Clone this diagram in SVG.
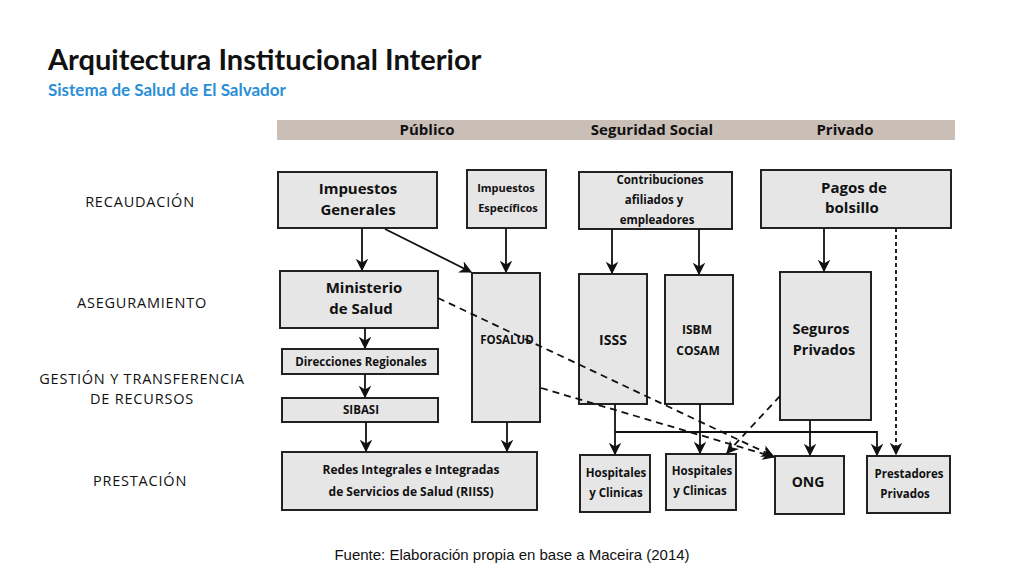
<svg xmlns="http://www.w3.org/2000/svg" width="1024" height="576" viewBox="0 0 1024 576">
<style>
.b{fill:#e6e6e6;stroke:#222;stroke-width:2}
.t{font-family:"Open Sans",sans-serif;font-weight:bold;fill:#111;text-anchor:middle}
.l{font-family:"Open Sans",sans-serif;font-size:14.5px;fill:#111;text-anchor:middle;letter-spacing:0.8px}
.c line,.c path{stroke:#111;stroke-width:1.8;fill:none}
.d{stroke-dasharray:7,5}
.dt{stroke-dasharray:4,3}
</style>
<defs><marker id="a" viewBox="0 0 10 10" refX="9" refY="5" markerWidth="7" markerHeight="7" orient="auto"><path d="M0,0L10,5L0,10L3,5z" fill="#111"/></marker></defs>
<rect width="1024" height="576" fill="#fff"/>
<text x="48" y="70" font-family="Lato,'Open Sans',sans-serif" font-weight="bold" font-size="29" fill="#111">Arquitectura Institucional Interior</text>
<text x="48" y="96" font-family="Lato,'Open Sans',sans-serif" font-weight="bold" font-size="17" fill="#2a8fd6">Sistema de Salud de El Salvador</text>
<rect x="277" y="120" width="678" height="20" fill="#c9bfb7"/>
<g class="t" font-size="15"><text x="427" y="135">Público</text><text x="652" y="135">Seguridad Social</text><text x="845" y="135">Privado</text></g>
<g class="l"><text x="140" y="207">RECAUDACIÓN</text><text x="142" y="308">ASEGURAMIENTO</text><text x="142" y="384">GESTIÓN Y TRANSFERENCIA</text><text x="142" y="404">DE RECURSOS</text><text x="140" y="486">PRESTACIÓN</text></g>
<g id="ig"><rect class="b" x="278" y="172" width="159" height="56"/><text class="t" font-size="15" x="358" y="194">Impuestos</text><text class="t" font-size="15" x="358" y="215">Generales</text></g>
<g id="ie"><rect class="b" x="467" y="170" width="79" height="58"/><text class="t" font-size="11" x="506" y="192">Impuestos</text><text class="t" font-size="11" x="508" y="212">Específicos</text></g>
<g id="co"><rect class="b" x="579" y="172" width="153" height="57"/><text class="t" font-size="11.5" x="660" y="184">Contribuciones</text><text class="t" font-size="11.5" x="654" y="204">afiliados y</text><text class="t" font-size="11.5" x="657" y="224">empleadores</text></g>
<g id="pb"><rect class="b" x="761" y="170" width="190" height="58"/><text class="t" font-size="15" x="854" y="193">Pagos de</text><text class="t" font-size="15" x="852" y="213">bolsillo</text></g>
<g id="ms"><rect class="b" x="280" y="271" width="158" height="57"/><text class="t" font-size="15" x="364" y="293">Ministerio</text><text class="t" font-size="15" x="361" y="314">de Salud</text></g>
<g id="fo"><rect class="b" x="472" y="273" width="68" height="149"/><text class="t" font-size="11.5" x="507" y="344">FOSALUD</text></g>
<g id="is"><rect class="b" x="579" y="274" width="68" height="130"/><text class="t" font-size="14" x="613" y="345">ISSS</text></g>
<g id="ib"><rect class="b" x="665" y="275" width="68" height="129"/><text class="t" font-size="12" x="697" y="334">ISBM</text><text class="t" font-size="12" x="698" y="355">COSAM</text></g>
<g id="sp"><rect class="b" x="780" y="272" width="91" height="148"/><text class="t" font-size="14.5" x="821" y="334">Seguros</text><text class="t" font-size="14.5" x="824" y="355">Privados</text></g>
<g id="dr"><rect class="b" x="282" y="349" width="156" height="25"/><text class="t" font-size="11.5" x="361" y="366">Direcciones Regionales</text></g>
<g id="si"><rect class="b" x="282" y="398" width="156" height="24"/><text class="t" font-size="11.5" x="361" y="414">SIBASI</text></g>
<g id="re"><rect class="b" x="282" y="452" width="255" height="58"/><text class="t" font-size="12" x="411" y="474">Redes Integrales e Integradas</text><text class="t" font-size="12" x="411" y="496">de Servicios de Salud (RIISS)</text></g>
<g id="h1"><rect class="b" x="580" y="455" width="70" height="57"/><text class="t" font-size="11.5" x="616" y="477">Hospitales</text><text class="t" font-size="11.5" x="616" y="497">y Clinicas</text></g>
<g id="h2"><rect class="b" x="666" y="454" width="70" height="56"/><text class="t" font-size="11.5" x="702" y="475">Hospitales</text><text class="t" font-size="11.5" x="700" y="495">y Clinicas</text></g>
<g id="on"><rect class="b" x="775" y="456" width="69" height="58"/><text class="t" font-size="14" x="808" y="487">ONG</text></g>
<g id="pp"><rect class="b" x="867" y="456" width="83" height="57"/><text class="t" font-size="11.5" x="909" y="478">Prestadores</text><text class="t" font-size="11.5" x="905" y="498">Privados</text></g>
<g class="c" id="connectors">
<line x1="362" y1="228" x2="362" y2="270" marker-end="url(#a)"/>
<line x1="385" y1="229" x2="471" y2="272" marker-end="url(#a)"/>
<line x1="506" y1="228" x2="506" y2="272" marker-end="url(#a)"/>
<line x1="612" y1="229" x2="612" y2="273" marker-end="url(#a)"/>
<line x1="699" y1="229" x2="699" y2="274" marker-end="url(#a)"/>
<line x1="824" y1="228" x2="824" y2="271" marker-end="url(#a)"/>
<line class="dt" x1="896" y1="228" x2="896" y2="454" marker-end="url(#a)"/>
<line x1="365" y1="328" x2="365" y2="348" marker-end="url(#a)"/>
<line x1="365" y1="374" x2="365" y2="397" marker-end="url(#a)"/>
<line x1="366" y1="422" x2="366" y2="451" marker-end="url(#a)"/>
<line x1="507" y1="422" x2="507" y2="451" marker-end="url(#a)"/>
<line x1="615" y1="404" x2="615" y2="454" marker-end="url(#a)"/>
<path d="M615,432H877V455" marker-end="url(#a)"/>
<line x1="700" y1="404" x2="700" y2="453" marker-end="url(#a)"/>
<line x1="810" y1="420" x2="810" y2="455" marker-end="url(#a)"/>
<line class="d" x1="438" y1="298" x2="773" y2="456" marker-end="url(#a)"/>
<line class="d" x1="541" y1="388" x2="774" y2="457" marker-end="url(#a)"/>
<line class="d" x1="780" y1="396" x2="727" y2="453" marker-end="url(#a)"/>
</g>
<text x="512" y="560" font-family="'Liberation Sans',sans-serif" font-size="15" text-anchor="middle" fill="#111">Fuente: Elaboración propia en base a Maceira (2014)</text>
</svg>
